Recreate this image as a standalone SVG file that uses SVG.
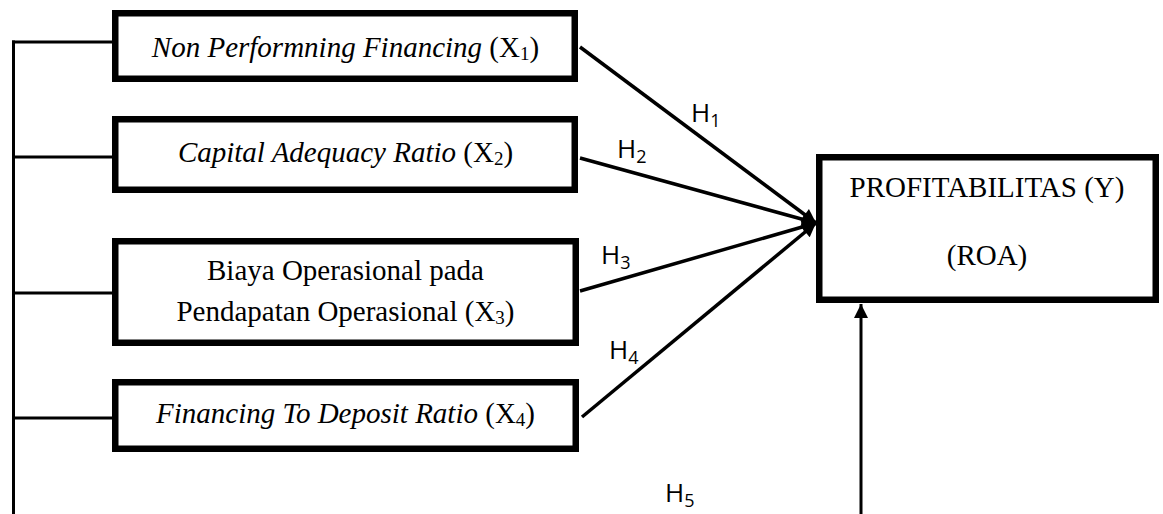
<svg xmlns="http://www.w3.org/2000/svg" width="1163" height="514" viewBox="0 0 1163 514">
<style>
.box{fill:#fff;stroke:#000;stroke-width:6.5}
.t{font-family:"Liberation Serif","Times New Roman",serif;font-size:29px;fill:#000}
.i{font-style:italic}
.sub{font-size:19px}
.h{font-family:"Open Sans","Noto Sans",sans-serif;font-size:26px;fill:#000}
.hs{font-size:18px}
.c{fill:none;stroke:#000;stroke-width:3}
.a{fill:none;stroke:#000;stroke-width:3.5}
</style>
<defs>
<marker id="ah" viewBox="0 0 10 10" refX="10" refY="5" markerWidth="18" markerHeight="14" markerUnits="userSpaceOnUse" orient="auto"><path d="M0,0 L10,5 L0,10 z" fill="#000"/></marker>
<marker id="ah2" viewBox="0 0 10 10" refX="10" refY="5" markerWidth="14" markerHeight="16" markerUnits="userSpaceOnUse" orient="auto"><path d="M0,0 L10,5 L0,10 z" fill="#000"/></marker>
</defs>
<g id="connectors">
<path class="c" d="M13.5,40.5 V516"/>
<path class="c" d="M12,42 H112 M12,157 H112 M12,293 H112 M12,418 H112"/>
<path class="c" d="M12,515.5 H861"/>
<path class="c" d="M861,516 V304" marker-end="url(#ah2)"/>
<path class="a" d="M580,47 L816,223" marker-end="url(#ah)"/>
<path class="a" d="M580,158 L816,223" marker-end="url(#ah)"/>
<path class="a" d="M580,291 L816,223" marker-end="url(#ah)"/>
<path class="a" d="M582,417 L816,223" marker-end="url(#ah)"/>
<text class="h" x="691" y="122">H<tspan class="hs" dy="5">1</tspan></text>
<text class="h" x="617" y="158">H<tspan class="hs" dy="5">2</tspan></text>
<text class="h" x="601" y="264">H<tspan class="hs" dy="5">3</tspan></text>
<text class="h" x="609" y="359">H<tspan class="hs" dy="5">4</tspan></text>
<text class="h" x="665" y="502">H<tspan class="hs" dy="5">5</tspan></text>
</g>
<g id="x1">
<rect class="box" x="115.25" y="13.25" width="459.5" height="65.5"/>
<text class="t" x="345.5" y="57" text-anchor="middle"><tspan class="i">Non Performning Financing</tspan> (X<tspan class="sub" dy="3">1</tspan><tspan dy="-3">)</tspan></text>
</g>
<g id="x2">
<rect class="box" x="115.25" y="119.25" width="459.5" height="70.5"/>
<text class="t" x="345.5" y="162" text-anchor="middle"><tspan class="i">Capital Adequacy Ratio</tspan> (X<tspan class="sub" dy="3">2</tspan><tspan dy="-3">)</tspan></text>
</g>
<g id="x3">
<rect class="box" x="115.25" y="241.25" width="460.5" height="101.5"/>
<text class="t" x="345.5" y="280" text-anchor="middle">Biaya Operasional pada</text>
<text class="t" x="345.5" y="321" text-anchor="middle">Pendapatan Operasional (X<tspan class="sub" dy="3">3</tspan><tspan dy="-3">)</tspan></text>
</g>
<g id="x4">
<rect class="box" x="115.25" y="382.25" width="460.5" height="66.5"/>
<text class="t" x="345.5" y="423" text-anchor="middle"><tspan class="i">Financing To Deposit Ratio</tspan> (X<tspan class="sub" dy="3">4</tspan><tspan dy="-3">)</tspan></text>
</g>
<g id="y">
<rect class="box" x="819.25" y="157.25" width="336.5" height="142.5"/>
<text class="t" x="987" y="197" text-anchor="middle">PROFITABILITAS (Y)</text>
<text class="t" x="987" y="265" text-anchor="middle">(ROA)</text>
</g>
</svg>
